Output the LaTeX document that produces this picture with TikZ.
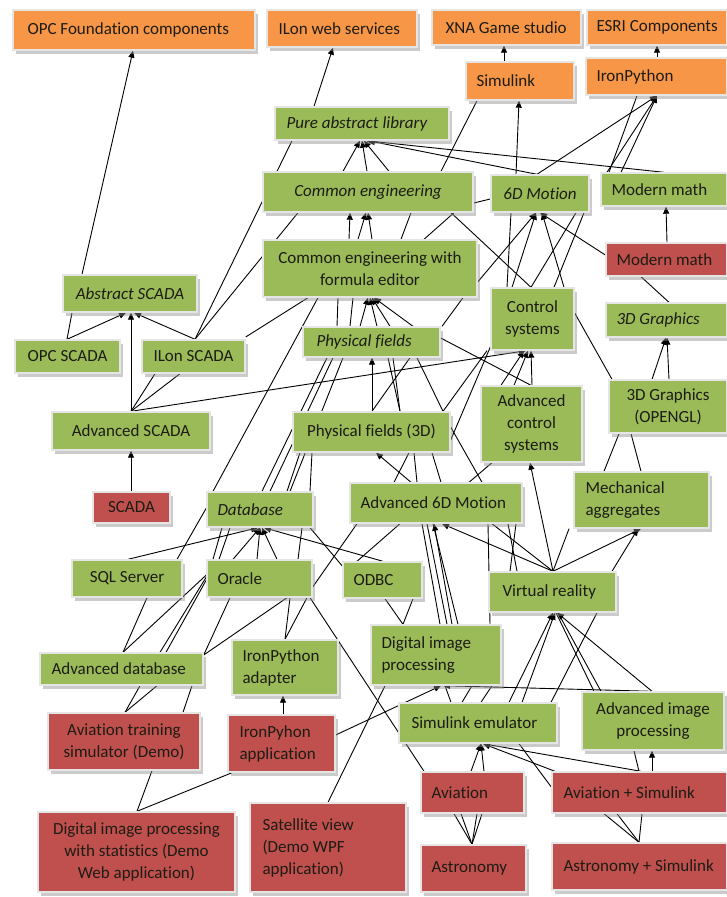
\documentclass[tikz,border=0pt]{standalone}
\usepackage{fontspec}
\setmainfont{Carlito}[Ligatures=NoCommon]
\usetikzlibrary{arrows.meta,shadows,backgrounds}

\definecolor{boxorange}{RGB}{247,150,70}
\definecolor{boxgreen}{RGB}{155,187,89}
\definecolor{boxred}{RGB}{192,80,77}
\definecolor{ink}{RGB}{28,28,20}

\tikzset{
  card/.style={rectangle, inner sep=0pt, draw=white!90!black, line width=1.4pt,
    drop shadow={shadow xshift=2.5pt, shadow yshift=-3.5pt, fill=black!45, opacity=0.45}},
  obox/.style={card, fill=boxorange},
  gbox/.style={card, fill=boxgreen},
  rbox/.style={card, fill=boxred},
  txt/.style={inner sep=0pt, text=ink, font=\fontsize{17}{22}\selectfont},
  ln/.style={draw=black, line width=0.9pt},
  ar/.style={ln, -{Triangle[length=7pt,width=6pt]}},
}

% \boxnode{name}{x1}{y1}{x2}{y2}{style}{l|c}{left pad}{text}
\newcommand\boxnode[9]{%
  \pgfmathsetmacro\bxW{#4-#2}%
  \pgfmathsetmacro\bxH{#5-#3}%
  \pgfmathsetmacro\bxX{(#2+#4)/2}%
  \pgfmathsetmacro\bxY{(#3+#5)/2}%
  \node[#6, minimum width=\bxW pt, minimum height=\bxH pt] (#1) at (\bxX,\bxY) {};%
  \ifx l#7%
    \node[txt, anchor=west, align=left] (#1-t) at ([xshift=#8pt]#1.west) {#9};%
  \else
    \node[txt, align=center] (#1-t) at (#1.center) {#9};%
  \fi}

\begin{document}
\begin{tikzpicture}[x=1pt, y=-1pt]
\useasboundingbox (0,0) rectangle (727,897);

% ---- external components (orange)
\boxnode{opcf}{13}{10}{255}{50}{obox}{l}{15}{OPC Foundation components}
\boxnode{ilonws}{267}{10}{417}{47}{obox}{l}{12}{ILon web services}
\boxnode{xna}{432}{10}{581}{45}{obox}{l}{14}{XNA Game studio}
\boxnode{esri}{587}{10}{727}{45}{obox}{l}{10}{ESRI Components}
\boxnode{simulink}{466}{62}{574}{100}{obox}{l}{11}{Simulink}
\boxnode{ironpy}{586}{58}{727}{95}{obox}{l}{11}{IronPython}

% ---- libraries (green)
\boxnode{pure}{275}{107}{449}{140}{gbox}{l}{12}{\itshape Pure abstract library}
\boxnode{ceng}{263}{172}{473}{212}{gbox}{c}{0}{\itshape Common engineering}
\boxnode{sixd}{491}{175}{589}{212}{gbox}{c}{0}{\itshape 6D Motion}
\boxnode{mmath}{601}{173}{727}{206}{gbox}{l}{11}{Modern math}
\boxnode{cef}{263}{240}{477}{297}{gbox}{c}{0}{Common engineering with\\formula editor}
\boxnode{abscada}{63}{275}{197}{312}{gbox}{c}{0}{\itshape Abstract SCADA}
\boxnode{opcscada}{15}{340}{120}{373}{gbox}{c}{0}{OPC SCADA}
\boxnode{ilonscada}{142}{340}{245}{373}{gbox}{c}{0}{ILon SCADA}
\boxnode{phys}{303}{327}{440}{357}{gbox}{l}{14}{\itshape Physical fields}
\boxnode{ctrl}{491}{288}{574}{350}{gbox}{c}{0}{Control\\systems}
\boxnode{threed}{606}{303}{727}{337}{gbox}{l}{11}{\itshape 3D Graphics}
\boxnode{advscada}{52}{412}{210}{450}{gbox}{c}{0}{Advanced SCADA}
\boxnode{phys3d}{293}{412}{450}{452}{gbox}{c}{0}{Physical fields (3D)}
\boxnode{advctrl}{481}{386}{582}{462}{gbox}{c}{0}{Advanced\\control\\systems}
\boxnode{opengl}{609}{380}{727}{433}{gbox}{c}{0}{3D Graphics\\(OPENGL)}
\boxnode{db}{207}{492}{313}{527}{gbox}{l}{11}{\itshape Database}
\boxnode{adv6d}{350}{483}{522}{523}{gbox}{l}{11}{Advanced 6D Motion}
\boxnode{mech}{574}{472}{709}{528}{gbox}{l}{12}{Mechanical\\aggregates}
\boxnode{sql}{72}{560}{182}{597}{gbox}{c}{0}{SQL Server}
\boxnode{oracle}{207}{560}{312}{597}{gbox}{l}{11}{Oracle}
\boxnode{odbc}{343}{562}{422}{598}{gbox}{l}{11}{ODBC}
\boxnode{vr}{489}{572}{616}{612}{gbox}{l}{14}{Virtual reality}
\boxnode{dip}{371}{625}{501}{685}{gbox}{l}{11}{Digital image\\processing}
\boxnode{advdb}{40}{653}{203}{685}{gbox}{l}{12}{Advanced database}
\boxnode{ipyad}{232}{640}{338}{695}{gbox}{l}{11}{IronPython\\adapter}
\boxnode{simemu}{399}{703}{557}{743}{gbox}{l}{13}{Simulink emulator}
\boxnode{advimg}{582}{692}{724}{750}{gbox}{c}{0}{Advanced image\\processing}

% ---- applications (red)
\boxnode{mmathr}{606}{243}{727}{276}{rbox}{l}{11}{Modern math}
\boxnode{scada}{93}{492}{170}{523}{rbox}{c}{0}{SCADA}
\boxnode{avtrain}{48}{713}{200}{770}{rbox}{c}{0}{Aviation training\\simulator (Demo)}
\boxnode{ipyapp}{228}{715}{335}{772}{rbox}{l}{12}{IronPyhon\\application}
\boxnode{aviation}{421}{772}{524}{813}{rbox}{l}{11}{Aviation}
\boxnode{avsim}{552}{772}{727}{813}{rbox}{l}{12}{Aviation + Simulink}
\boxnode{dipstat}{38}{812}{235}{892}{rbox}{c}{0}{Digital image processing\\with statistics (Demo\\Web application)}
\boxnode{sat}{250}{803}{406}{892}{rbox}{l}{13}{Satellite view\\(Demo WPF\\application)}
\boxnode{astro}{421}{845}{526}{892}{rbox}{l}{11}{Astronomy}
\boxnode{astrosim}{552}{843}{727}{890}{rbox}{l}{12}{Astronomy + Simulink}

\begin{pgfonlayer}{background}
% top row
\draw[ar] (abscada.north -| 82,0) -- (opcf.south -| 133,0);
\draw[ar] (pure.north -| 314,0) -- (ilonws.south -| 333,0);
\draw[ar] (simulink.north -| 504,0) -- (xna.south -| 504,0);
\draw[ar] (ironpy.north -| 657,0) -- (esri.south -| 657,0);
\draw[ln] (ceng.north -| 441,0) -- (simulink.south -| 477,0);
\draw[ar] (sixd.north -| 516,0) -- (simulink.south -| 519,0);
\draw[ar] (sixd.north -| 537,0) -- (ironpy.south -| 657,0);
\draw[ar] (mmath.north -| 607,0) -- (ironpy.south -| 657,0);
\draw[ar] (mmath.north -| 621,0) -- (ironpy.south -| 657,0);
\draw[ln] (mmath.north -| 609,0) -- (ironpy.south -| 637,0);
\draw[ar] (mmath.north -| 664,0) -- (pure.south -| 366,0);
\draw[ar] (sixd.north -| 537,0) -- (pure.south -| 368,0);
\draw[ar] (ceng.north -| 343,0) -- (pure.south -| 360,0);
\draw[ar] (ceng.north -| 367,0) -- (pure.south -| 362,0);
\draw[ar] (ceng.north -| 389,0) -- (pure.south -| 364,0);
\draw[ln] (ilonscada.north -| 195,0) -- (pure.south -| 292,0);
\draw[ln] (ilonscada.north -| 195,0) -- (ceng.south -| 298,0);
\draw[ln] (ilonscada.east |- 0,337) -- (cef.south -| 308,0);
% SCADA
\draw[ar] (opcscada.north -| 67,0) -- (abscada.south -| 126,0);
\draw[ln] (opcscada.north -| 67,0) -- (abscada.south -| 72,0);
\draw[ar] (ilonscada.north -| 195,0) -- (abscada.south -| 134,0);
\draw[ar] (advscada.north -| 131,0) -- (abscada.south -| 131,0);
\draw[ln] (advscada.north -| 131,0) -- (ilonscada.south -| 155,0);
\draw[ln] (advscada.north -| 131,0) -- (ilonscada.south -| 180,0);
\draw[ar] (advscada.north -| 131,0) -- (ctrl.south -| 526,0);
\draw[ar] (scada.north -| 131,0) -- (advscada.south -| 131,0);
% engineering
\draw[ar] (cef.north -| 349,0) -- (ceng.south -| 350,0);
\draw[ar] (cef.north -| 358,0) -- (ceng.south -| 366,0);
\draw[ar] (cef.north -| 372,0) -- (ceng.south -| 368,0);
\draw[ln] (cef.north -| 401,0) -- (ceng.south -| 411,0);
\draw[ln] (ceng.south -| 454,0) -- (cef.north -| 424,0);
\draw[ln] (ceng.south -| 451,0) -- (ctrl.north -| 531,0);
\draw[ln] (ceng.east |- 0,203) -- (sixd.west |- 0,199);
% 6D motion
\draw[ar] (cef.east |- 0,282) -- (sixd.south -| 536,0);
\draw[ar] (ctrl.north -| 512,0) -- (sixd.south -| 536,0);
\draw[ar] (ctrl.north -| 564,0) -- (sixd.south -| 542,0);
\draw[ar] (mmathr.west |- 0,255) -- (sixd.south -| 540,0);
\draw[ln] (sixd.south -| 511,0) -- (ctrl.north -| 507,0);
\draw[ln] (sixd.south -| 576,0) -- (ctrl.north -| 531,0);
\draw[ln] (sixd.south -| 584,0) -- (ctrl.north -| 554,0);
\draw[ar] (mmathr.north -| 667,0) -- (mmath.south -| 666,0);
\draw[ln] (mmathr.south -| 641,0) -- (threed.north -| 669,0);
% graphics and control
\draw[ln] (ctrl.east |- 0,313) -- (opengl.north -| 612,0);
\draw[ar] (opengl.north -| 669,0) -- (threed.south -| 667,0);
\draw[ar] (opengl.north -| 652,0) -- (threed.south -| 666,0);
\draw[ln] (opengl.south -| 619,0) -- (mech.north -| 604,0);
\draw[ln] (opengl.south -| 631,0) -- (mech.north -| 641,0);
\draw[ar] (advctrl.north -| 501,0) -- (ctrl.south -| 524,0);
\draw[ar] (advctrl.north -| 514,0) -- (ctrl.south -| 528,0);
\draw[ar] (advctrl.north -| 532,0) -- (ctrl.south -| 531,0);
\draw[ln] (phys.east |- 0,338) -- (advctrl.north -| 531,0);
\draw[ln] (ctrl.west |- 0,347) -- (phys3d.east |- 0,440);
% physical fields
\draw[ar] (phys.north -| 360,0) -- (cef.south -| 368,0);
\draw[ar] (phys.north -| 377,0) -- (cef.south -| 370,0);
\draw[ar] (phys.north -| 390,0) -- (cef.south -| 372,0);
\draw[ar] (phys.north -| 413,0) -- (cef.south -| 374,0);
\draw[ln] (phys.north -| 337,0) -- (cef.south -| 338,0);
\draw[ln] (phys.north -| 350,0) -- (cef.south -| 353,0);
\draw[ln] (phys.north -| 442,0) -- (cef.south -| 463,0);
\draw[ln] (db.north -| 213,0) -- (cef.south -| 318,0);
\draw[ar] (phys3d.north -| 372,0) -- (phys.south -| 372,0);
\draw[ln] (phys3d.north -| 400,0) -- (phys.south -| 388,0);
\draw[ln] (phys3d.north -| 400,0) -- (phys.south -| 393,0);
\draw[ln] (phys3d.north -| 372,0) -- (phys.south -| 410,0);
\draw[ln] (phys3d.north -| 443,0) -- (phys.south -| 417,0);
\draw[ln] (phys3d.north -| 443,0) -- (ctrl.south -| 487,0);
\draw[ln] (phys.south -| 327,0) -- (db.north -| 262,0);
\draw[ln] (phys.south -| 333,0) -- (db.north -| 270,0);
\draw[ln] (phys.south -| 343,0) -- (db.north -| 290,0);
\draw[ln] (phys3d.south -| 300,0) -- (db.north -| 287,0);
\draw[ln] (phys3d.south -| 312,0) -- (db.north -| 310,0);
% advanced 6D motion
\draw[ar] (adv6d.north -| 411,0) -- (phys3d.south -| 376,0);
\draw[ln] (adv6d.north -| 394,0) -- (phys3d.south -| 409,0);
\draw[ln] (adv6d.north -| 417,0) -- (phys3d.south -| 414,0);
\draw[ln] (adv6d.north -| 441,0) -- (phys3d.south -| 432,0);
\draw[ln] (adv6d.north -| 469,0) -- (advctrl.south -| 492,0);
\draw[ln] (phys3d.east |- 0,427) -- (adv6d.north -| 482,0);
% virtual reality
\draw[ar] (vr.north -| 553,0) -- (advctrl.south -| 530,0);
\draw[ar] (vr.north -| 553,0) -- (mech.south -| 641,0);
\draw[ln] (vr.north -| 553,0) -- (mech.south -| 569,0);
\draw[ar] (vr.north -| 553,0) -- (adv6d.south -| 442,0);
\draw[ln] (vr.north -| 553,0) -- (adv6d.south -| 492,0);
\draw[ar] (vr.north -| 612,0) -- (mech.south -| 638,0);
\draw[ln] (adv6d.south -| 508,0) -- (vr.north -| 517,0);
\draw[ln] (adv6d.south -| 516,0) -- (vr.north -| 510,0);
% database
\draw[ar] (sql.north -| 128,0) -- (db.south -| 258,0);
\draw[ar] (oracle.north -| 233,0) -- (db.south -| 260,0);
\draw[ar] (oracle.north -| 257,0) -- (db.south -| 260,0);
\draw[ar] (oracle.north -| 277,0) -- (db.south -| 262,0);
\draw[ar] (odbc.north -| 383,0) -- (db.south -| 264,0);
\draw[ln] (db.south -| 222,0) -- (oracle.north -| 213,0);
\draw[ln] (db.south -| 230,0) -- (oracle.north -| 219,0);
\draw[ln] (db.south -| 302,0) -- (oracle.north -| 298,0);
\draw[ln] (db.south -| 310,0) -- (odbc.west |- 0,566);
\draw[ln] (db.west |- 0,508) -- (sql.north -| 177,0);
\draw[ln] (oracle.west |- 0,575) -- (advdb.north -| 123,0);
\draw[ln] (oracle.west |- 0,577) -- (advdb.north -| 160,0);
\draw[ln] (oracle.west |- 0,580) -- (advdb.north -| 166,0);
\draw[ln] (sql.south -| 147,0) -- (advdb.north -| 123,0);
\draw[ln] (oracle.south -| 230,0) -- (advdb.east |- 0,655);
\draw[ln] (oracle.south -| 287,0) -- (advdb.east |- 0,655);
\draw[ln] (oracle.south -| 290,0) -- (ipyad.north -| 285,0);
\draw[ln] (oracle.south -| 307,0) -- (ipyad.north -| 285,0);
\draw[ln] (oracle.south -| 310,0) -- (aviation.north -| 424,0);
\draw[ln] (oracle.east |- 0,587) -- (adv6d.south -| 357,0);
\draw[ln] (adv6d.south -| 400,0) -- (odbc.north -| 357,0);
\draw[ln] (odbc.south -| 385,0) -- (dip.north -| 403,0);
\draw[ln] (odbc.south -| 413,0) -- (dip.north -| 403,0);
% demos and adapters
\draw[ar] (ipyapp.north -| 283,0) -- (ipyad.south -| 283,0);
\draw[ln] (advdb.south -| 140,0) -- (avtrain.north -| 125,0);
\draw[ln] (advdb.south -| 157,0) -- (avtrain.north -| 125,0);
\draw[ln] (advdb.south -| 192,0) -- (avtrain.north -| 183,0);
\draw[ln] (avtrain.south -| 152,0) -- (dipstat.north -| 137,0);
\draw[ln] (ipyapp.south -| 232,0) -- (dipstat.north -| 137,0);
\draw[ar] (ipyapp.east |- 0,735) -- (dip.south -| 441,0);
\draw[ln] (sat.north -| 328,0) -- (dip.south -| 385,0);
% image processing
\draw[ar] (advimg.north -| 652,0) -- (dip.south -| 443,0);
\draw[ar] (simemu.north -| 509,0) -- (vr.south -| 553,0);
\draw[ar] (simemu.north -| 522,0) -- (vr.south -| 555,0);
\draw[ar] (advimg.north -| 652,0) -- (vr.south -| 557,0);
\draw[ln] (advimg.north -| 594,0) -- (vr.south -| 556,0);
\draw[ln] (advimg.north -| 601,0) -- (vr.south -| 558,0);
\draw[ln] (simemu.north -| 551,0) -- (vr.south -| 597,0);
\draw[ln] (adv6d.south -| 422,0) -- (dip.north -| 440,0);
\draw[ln] (adv6d.south -| 427,0) -- (dip.north -| 447,0);
\draw[ln] (adv6d.south -| 433,0) -- (dip.north -| 458,0);
\draw[ar] (dip.north -| 452,0) -- (adv6d.south -| 434,0);
\draw[ln] (adv6d.south -| 488,0) -- (dip.north -| 490,0);
\draw[ln] (simemu.north -| 451,0) -- (dip.south -| 445,0);
\draw[ln] (simemu.north -| 462,0) -- (dip.south -| 472,0);
\draw[ln] (simemu.north -| 481,0) -- (dip.south -| 492,0);
% simulation applications
\draw[ar] (aviation.north -| 471,0) -- (simemu.south -| 481,0);
\draw[ar] (aviation.north -| 484,0) -- (simemu.south -| 481,0);
\draw[ar] (avsim.north -| 641,0) -- (simemu.south -| 483,0);
\draw[ar] (avsim.north -| 555,0) -- (simemu.south -| 483,0);
\draw[ln] (simemu.south -| 519,0) -- (avsim.west |- 0,787);
\draw[ar] (avsim.north -| 652,0) -- (advimg.south -| 652,0);
\draw[ln] (advimg.south -| 634,0) -- (avsim.north -| 639,0);
\draw[ln] (aviation.south -| 454,0) -- (astro.north -| 472,0);
\draw[ln] (aviation.south -| 461,0) -- (astro.north -| 472,0);
\draw[ln] (aviation.south -| 477,0) -- (astro.north -| 472,0);
\draw[ln] (aviation.south -| 482,0) -- (astro.north -| 472,0);
\draw[ln] (avsim.south -| 604,0) -- (astrosim.north -| 639,0);
\draw[ln] (avsim.south -| 617,0) -- (astrosim.north -| 639,0);
\draw[ln] (avsim.south -| 642,0) -- (astrosim.north -| 639,0);
\end{pgfonlayer}
\end{tikzpicture}
\end{document}
